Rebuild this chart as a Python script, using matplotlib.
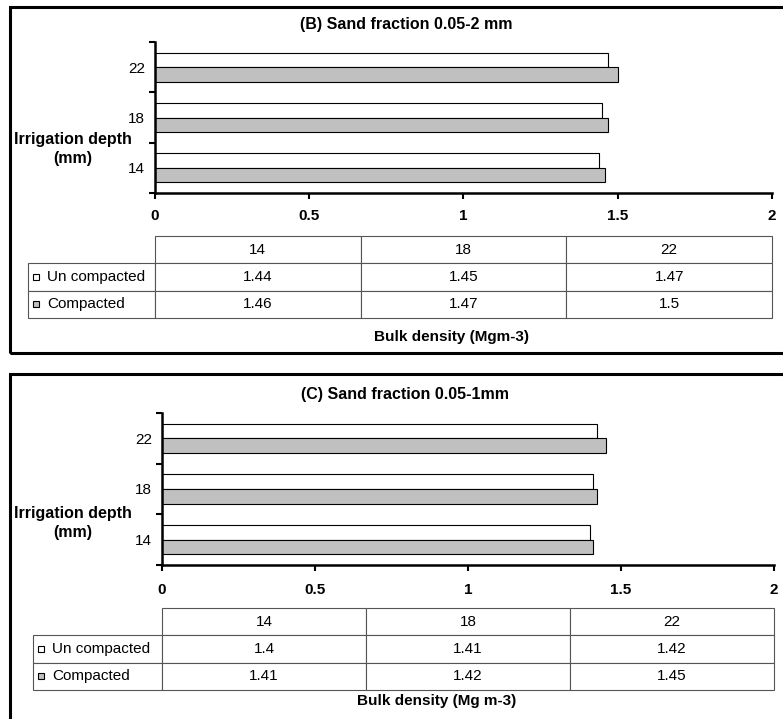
import numpy as np
import matplotlib
matplotlib.use('Agg')
import matplotlib.pyplot as plt
from matplotlib.patches import Rectangle

plt.rcParams['font.family'] = ['Liberation Sans', 'DejaVu Sans']

# data
depths = ['14', '18', '22']
series_names = ['Un compacted', 'Compacted']
b_uncompacted = [1.44, 1.45, 1.47]
b_compacted = [1.46, 1.47, 1.5]
c_uncompacted = [1.4, 1.41, 1.42]
c_compacted = [1.41, 1.42, 1.45]
x_ticks = [0, 0.5, 1, 1.5, 2]
x_ticklabels = ['0', '0.5', '1', '1.5', '2']

W, H = 783, 719
FS = 11
fig = plt.figure(figsize=(W / 100, H / 100), dpi=100)


def px_axes(left, top, right, bottom):
    return fig.add_axes([left / W, 1 - bottom / H, (right - left) / W, (bottom - top) / H])


def px_text(x, y, s, **kw):
    fig.text(x / W, 1 - y / H, s, ha='center', va='center', **kw)


def draw_panel(plot_box, table_box, title, title_xy, xlabel, xlabel_xy, ylabel_xy,
               uncompacted, compacted, xpad):
    ax = px_axes(*plot_box)
    y = np.arange(len(depths))
    h = 0.29
    ax.barh(y + h / 2, uncompacted, height=h, color='white', edgecolor='black', linewidth=0.8)
    ax.barh(y - h / 2, compacted, height=h, color='#c0c0c0', edgecolor='black', linewidth=0.8)
    ax.set_xlim(0, 2)
    ax.set_ylim(-0.5, len(depths) - 0.5)
    ax.set_xticks(x_ticks)
    ax.set_xticklabels(x_ticklabels, fontweight='bold', fontsize=FS)
    # tick marks between categories, labels in the middle
    ax.set_yticks(np.arange(len(depths) + 1) - 0.5)
    ax.set_yticklabels([])
    ax.set_yticks(y, minor=True)
    ax.set_yticklabels(depths, minor=True, fontsize=FS)
    ax.tick_params(axis='y', which='minor', length=0, pad=7)
    ax.tick_params(axis='both', which='major', length=4, width=1.5, direction='out')
    ax.tick_params(axis='x', pad=xpad)
    for side in ['top', 'right']:
        ax.spines[side].set_visible(False)
    for side in ['left', 'bottom']:
        ax.spines[side].set_linewidth(1.8)
    ax.set_facecolor('none')

    # data table with legend keys; the axes covers the value columns,
    # the row label column hangs out to the left
    left, top, right, bottom = table_box
    data_left = plot_box[0]
    tax = px_axes(data_left, top, right, bottom)
    tax.axis('off')
    dw = right - data_left
    th = bottom - top
    label_w = data_left - left
    cell_text = [[f'{v:g}' for v in uncompacted], [f'{v:g}' for v in compacted]]
    tbl = tax.table(cellText=cell_text, colLabels=depths, rowLabels=series_names,
                    colWidths=[1 / len(depths)] * len(depths),
                    bbox=[0, 0, 1, 1], cellLoc='center', rowLoc='left')
    tbl._autoColumns = []
    tbl.auto_set_font_size(False)
    tbl.set_fontsize(FS)
    for (r, c), cell in tbl.get_celld().items():
        cell.set_edgecolor('#555555')
        cell.set_linewidth(0.8)
        if c == -1:
            cell.set_width(label_w / dw)
            cell.PAD = 19 / label_w
    n_rows = len(series_names) + 1
    for i, fc in enumerate(['white', '#c0c0c0']):
        yc = 1 - (i + 1.5) / n_rows
        tax.add_patch(Rectangle((-(label_w - 5) / dw, yc - 3 / th), 6 / dw, 6 / th,
                                transform=tax.transAxes, facecolor=fc, edgecolor='black',
                                linewidth=0.8, clip_on=False))

    px_text(*title_xy, title, fontsize=FS + 0.5, fontweight='bold')
    px_text(*xlabel_xy, xlabel, fontsize=FS, fontweight='bold')
    px_text(*ylabel_xy, 'Irrigation depth\n(mm)', fontsize=FS + 0.5, fontweight='bold',
            linespacing=1.35)


# panel frames (cut off by the picture edge on the right / bottom)
fig.patches.append(Rectangle((10 / W, 1 - 353 / H), 1.2, (353 - 7) / H, transform=fig.transFigure,
                             fill=False, edgecolor='black', linewidth=2.2))
fig.patches.append(Rectangle((10 / W, -0.2), 1.2, 0.2 + 1 - 374 / H, transform=fig.transFigure,
                             fill=False, edgecolor='black', linewidth=2.2))

draw_panel((155, 42, 772, 193), (28, 236, 772, 318), '(B) Sand fraction 0.05-2 mm', (406, 24),
           'Bulk density (Mgm-3)', (452, 337), (73, 149), b_uncompacted, b_compacted, 7.5)
draw_panel((162, 413, 774, 565), (33, 608, 774, 690), '(C) Sand fraction 0.05-1mm', (405, 395),
           'Bulk density (Mg m-3)', (437, 701), (73, 523), c_uncompacted, c_compacted, 9)

fig.savefig('out.png', dpi=100)
